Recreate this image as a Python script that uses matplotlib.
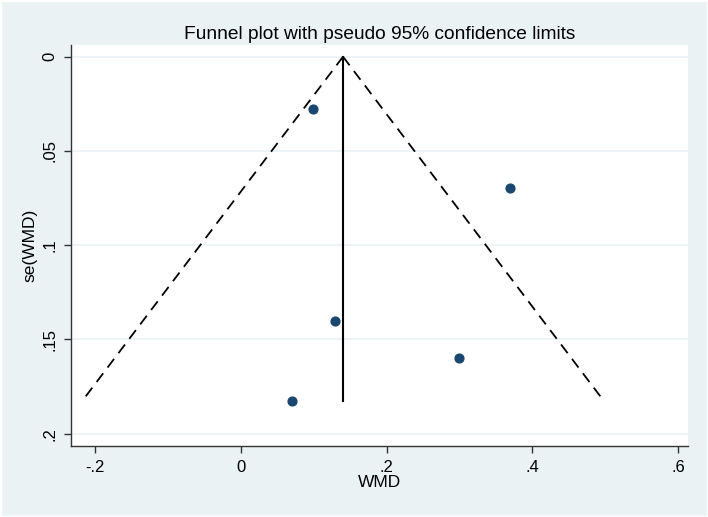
import numpy as np
import matplotlib.pyplot as plt
from matplotlib.patches import Rectangle

plt.rcParams['font.family'] = ['Liberation Sans', 'DejaVu Sans']

# study estimates
wmd = [0.099, 0.369, 0.129, 0.299, 0.070]
se_wmd = [0.0279, 0.0697, 0.140, 0.160, 0.1828]

pooled = 0.14
se_max = max(se_wmd)
xticks = [-0.2, 0, 0.2, 0.4, 0.6]
xtick_labels = ['-.2', '0', '.2', '.4', '.6']
yticks = [0, 0.05, 0.1, 0.15, 0.2]
ytick_labels = ['0', '.05', '.1', '.15', '.2']

bg = '#EAF2F3'
navy = '#1A476F'

fig = plt.figure(figsize=(7.08, 5.17), dpi=100, facecolor=bg)
# thin white frame round the whole graph region
fig.patches.append(Rectangle((0, 0), 1, 1, transform=fig.transFigure,
                             fill=False, edgecolor='white', lw=2.5))
ax = fig.add_axes([0.1003, 0.1379, 0.8715, 0.7751])
ax.set_facecolor('white')

for y in yticks:
    ax.axhline(y, color=bg, lw=1.2, zorder=0)

# pseudo 95% limits
se_line = np.array([0, se_max])
ax.plot(pooled - 1.96 * se_line, se_line, color='black', lw=1.3,
        ls=(0, (6, 4)), zorder=2)
ax.plot(pooled + 1.96 * se_line, se_line, color='black', lw=1.3,
        ls=(0, (6, 4)), zorder=2)
ax.plot([pooled, pooled], [0, se_max], color='black', lw=1.5, zorder=2)

ax.scatter(wmd, se_wmd, s=40, color=navy, edgecolor=navy, zorder=3)

ax.set_xlim(-0.2334, 0.6136)
ax.set_ylim(0.2064, -0.0062)
ax.set_xticks(xticks)
ax.set_xticklabels(xtick_labels)
ax.set_yticks(yticks)
ax.set_yticklabels(ytick_labels, rotation=90, va='center')
ax.tick_params(direction='out', length=5, width=1, labelsize=12,
               color='#333333', pad=5)

for side in ['top', 'right']:
    ax.spines[side].set_visible(False)
for side in ['left', 'bottom']:
    ax.spines[side].set_color('#333333')
    ax.spines[side].set_linewidth(1)

ax.set_xlabel('WMD', fontsize=12.5, labelpad=0)
ax.set_ylabel('se(WMD)', fontsize=12.5, labelpad=3)
ax.set_title('Funnel plot with pseudo 95% confidence limits', fontsize=13.8, pad=4)

fig.savefig('out.png', dpi=100, facecolor=bg)
